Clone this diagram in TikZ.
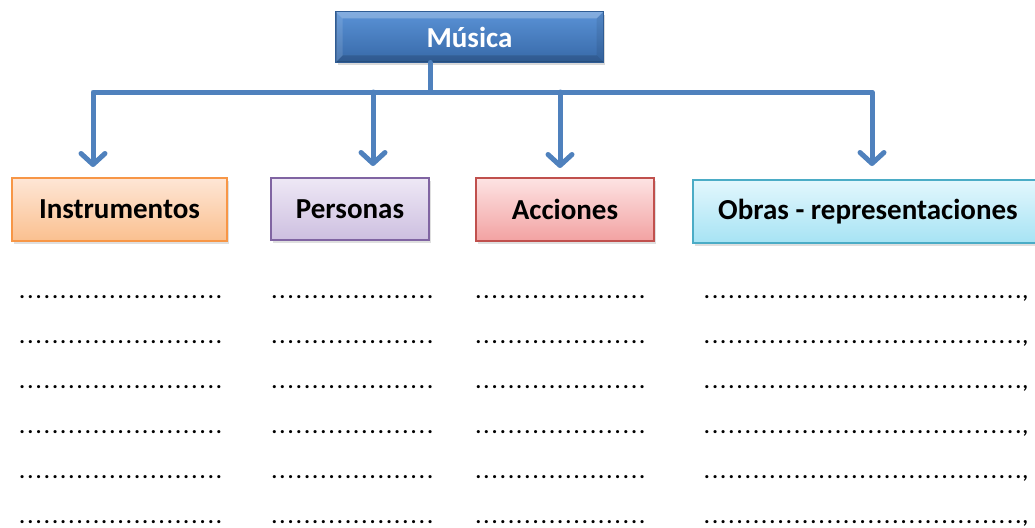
\documentclass[tikz,border=0pt]{standalone}
\usepackage{fontspec}
\setmainfont{Carlito}
\usetikzlibrary{arrows.meta,shadows}
\definecolor{lineblue}{HTML}{4F81BD}
\definecolor{musTop}{HTML}{5A92D6}
\definecolor{musBot}{HTML}{3769A8}
\definecolor{musB}{HTML}{2F5C94}
\definecolor{orB}{HTML}{F79646}
\definecolor{orT}{HTML}{FEE6D6}
\definecolor{orBot}{HTML}{FAC08F}
\definecolor{puB}{HTML}{8064A2}
\definecolor{puT}{HTML}{EEE8F5}
\definecolor{puBot}{HTML}{CDBFE0}
\definecolor{reB}{HTML}{C0504D}
\definecolor{reT}{HTML}{FDE3E3}
\definecolor{reBot}{HTML}{F2A2A2}
\definecolor{cyB}{HTML}{4BACC6}
\definecolor{cyT}{HTML}{E3F7FD}
\definecolor{cyBot}{HTML}{A6E3F4}
\newcommand\dotrun[1]{\hbox to \dimexpr 8.2pt*#1\relax{\leaders\hbox to 8.2pt{\hss.\hss}\hfill}}
\begin{document}
\begin{tikzpicture}[x=1pt,y=-1pt,
  box/.style={draw, line width=1.5pt, minimum height=63pt, inner sep=0pt,
    font=\fontsize{29}{34}\selectfont\bfseries,
    drop shadow={opacity=0.25, shadow xshift=2pt, shadow yshift=-3pt}},
  conn/.style={draw=lineblue, line width=5pt, line join=round, line cap=round},
  barb/.tip={Straight Barb[length=11pt,width=24pt,round]},
  dotrow/.style={inner sep=0pt, anchor=base west, font=\fontsize{21}{24}\selectfont\bfseries}]
\useasboundingbox (0,0) rectangle (1035,527);
\clip (0,0) rectangle (1035,527);

% top node
\node[draw=musB, line width=1pt, top color=musTop, bottom color=musBot,
  minimum width=267pt, minimum height=50pt, inner sep=0pt, text=white,
  font=\fontsize{29}{34}\selectfont\bfseries,
  drop shadow={opacity=0.3, shadow xshift=2pt, shadow yshift=-3pt}] (m) at (469.5,37) {};
% bevel highlights
\fill[white, opacity=0.25] (m.north west) -- (m.north east) -- ([shift={(-7,7)}]m.north east) -- ([shift={(7,7)}]m.north west) -- cycle;
\fill[white, opacity=0.12] (m.north west) -- ([shift={(7,7)}]m.north west) -- ([shift={(7,-7)}]m.south west) -- (m.south west) -- cycle;
\fill[black, opacity=0.15] (m.south west) -- ([shift={(7,-7)}]m.south west) -- ([shift={(-7,-7)}]m.south east) -- (m.south east) -- cycle;
\fill[black, opacity=0.08] (m.north east) -- ([shift={(-7,7)}]m.north east) -- ([shift={(-7,-7)}]m.south east) -- (m.south east) -- cycle;
\draw[musB, line width=1pt] (m.north west) rectangle (m.south east);
\node[text=white, font=\fontsize{29}{34}\selectfont\bfseries, inner sep=0pt] (mt) at (m.center) {Música};

% category boxes
\node[box, draw=orB, top color=orT, bottom color=orBot, minimum width=215pt] (inst) at (119.5,209.5) {Instrumentos};
\node[box, draw=puB, top color=puT, bottom color=puBot, minimum width=158pt, minimum height=62pt] (pers) at (350,209) {Personas};
\node[box, draw=reB, top color=reT, bottom color=reBot, minimum width=178pt] (acc) at (565,209.5) {Acciones};
\node[box, draw=cyB, top color=cyT, bottom color=cyBot, minimum width=350pt] (obr) at (868,211.5) {Obras - representaciones};

% connectors
\coordinate (j) at (430,92);
\coordinate (a1) at (93,167);
\coordinate (a2) at (373,166);
\coordinate (a3) at (560,168);
\coordinate (a4) at (872,166);
\draw[conn] (m.south -| j) -- (j);
\draw[conn,{barb}-{barb}] (a1) -- (a1 |- j) -- (a4 |- j) -- (a4);
\draw[conn,-{barb}] (a2 |- j) -- (a2);
\draw[conn,-{barb}] (a3 |- j) -- (a3);

% dotted lines
\foreach \k in {0,...,5}{
  \pgfmathsetmacro{\yy}{298+45*\k}
  \node[dotrow] (da\k) at (18,\yy) {\dotrun{25}};
  \node[dotrow] (db\k) at (270,\yy) {\dotrun{20}};
  \node[dotrow] (dc\k) at (474,\yy) {\dotrun{21}};
  \node[dotrow] (dd\k) at (702.6,\yy) {\dotrun{39},};
}
\end{tikzpicture}
\end{document}
